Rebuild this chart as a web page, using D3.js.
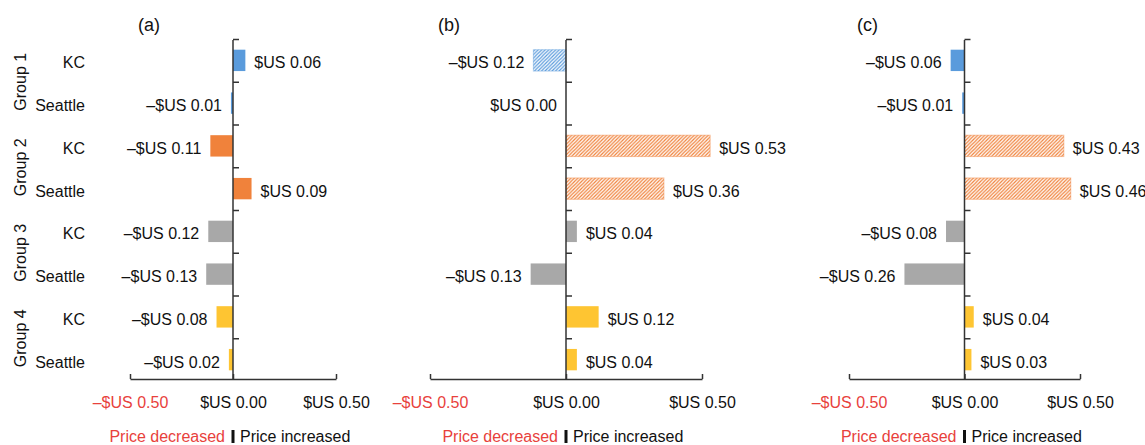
<!DOCTYPE html>
<html>
<head>
<meta charset="utf-8">
<script src="https://cdn.jsdelivr.net/npm/d3@7"></script>
<style>
  body { margin: 0; background: #fff; }
  svg { display: block; font-family: "Liberation Sans", Arial, Helvetica, sans-serif; }
</style>
</head>
<body>
<svg id="chart" width="1145" height="445"></svg>
<script>
// data
const rows = ["KC", "Seattle", "KC", "Seattle", "KC", "Seattle", "KC", "Seattle"];
const rowGroup = [0, 0, 1, 1, 2, 2, 3, 3];
const groups = ["Group 1", "Group 2", "Group 3", "Group 4"];
const valuesA = [0.06, -0.01, -0.11, 0.09, -0.12, -0.13, -0.08, -0.02];
const valuesB = [-0.12, 0.00, 0.53, 0.36, 0.04, -0.13, 0.12, 0.04];
const valuesC = [-0.06, -0.01, 0.43, 0.46, -0.08, -0.26, 0.04, 0.03];
const hatchA = [0, 0, 0, 0, 0, 0, 0, 0];
const hatchB = [1, 0, 1, 1, 0, 0, 0, 0];
const hatchC = [0, 0, 1, 1, 0, 0, 0, 0];
const panelLabels = ["(a)", "(b)", "(c)"];
const xTicks = [-0.5, 0, 0.5];

const groupColors = ["#5a9bdc", "#f0823b", "#a8a8a8", "#fec532"];
const red = "#e8413c";
const axisColor = "#333";

const svg = d3.select('#chart');
const defs = svg.append('defs');

// diagonal hatch pattern per group colour
groupColors.forEach((c, i) => {
    const p = defs.append('pattern')
        .attr('id', 'hatch' + i)
        .attr('patternUnits', 'userSpaceOnUse')
        .attr('width', 3.5)
        .attr('height', 3.5);
    p.append('rect').attr('width', 3.5).attr('height', 3.5).attr('fill', '#fff');
    p.append('path')
        .attr('d', 'M-1,1 L1,-1 M0,3.5 L3.5,0 M2.5,4.5 L4.5,2.5')
        .attr('stroke', c)
        .attr('stroke-width', 1.2);
});

const money = v => (v < 0 ? '\u2013$US ' : '$US ') + Math.abs(v).toFixed(2);

const panels = [
    { label: panelLabels[0], values: valuesA, hatch: hatchA, range: [130, 336] },
    { label: panelLabels[1], values: valuesB, hatch: hatchB, range: [430, 702] },
    { label: panelLabels[2], values: valuesC, hatch: hatchC, range: [849, 1080] }
];
const yTop = 39, yBottom = 381, xAxisY = 379;

const y = d3.scaleBand()
    .domain(d3.range(rows.length))
    .range([yTop, yBottom])
    .paddingInner(0.5)
    .paddingOuter(0.25);
const yLin = d3.scaleLinear().domain([0, rows.length]).range([yTop, yBottom]);

panels.forEach((panel, pi) => {
    const x = d3.scaleLinear().domain([-0.5, 0.5]).range(panel.range);
    const g = svg.append('g');

    // bars
    g.selectAll('.bar')
      .data(panel.values.map((v, i) => ({ v: v, i: i, h: panel.hatch[i] })))
      .enter().append('rect')
        .attr('class', 'bar')
        .attr('x', d => x(Math.min(0, d.v)))
        .attr('y', d => y(d.i))
        .attr('width', d => Math.abs(x(d.v) - x(0)))
        .attr('height', y.bandwidth())
        .attr('fill', d => d.h ? `url(#hatch${rowGroup[d.i]})` : groupColors[rowGroup[d.i]])
        .attr('stroke', d => d.h ? groupColors[rowGroup[d.i]] : 'none')
        .attr('stroke-opacity', 0.45)
        .attr('stroke-width', 1);

    // value labels
    g.selectAll('.val')
      .data(panel.values.map((v, i) => ({ v: v, i: i })))
      .enter().append('text')
        .attr('class', 'val')
        .attr('x', d => d.v > 0 ? x(d.v) + 9 : x(d.v) - 9)
        .attr('y', d => y(d.i) + y.bandwidth() / 2)
        .attr('dy', '0.5em')
        .attr('text-anchor', d => d.v > 0 ? 'start' : 'end')
        .attr('font-size', 16)
        .attr('fill', '#111')
        .text(d => money(d.v));

    // vertical axis at zero, ticks pointing right
    g.append('g')
        .attr('transform', `translate(${x(0)},0)`)
        .call(d3.axisRight(yLin).tickValues(d3.range(rows.length)).tickSize(6).tickSizeOuter(0).tickFormat(''))
        .call(a => a.select('.domain').attr('d', `M0,${yTop + 1}V${xAxisY}`))
        .call(a => a.selectAll('line,path').attr('stroke', axisColor).attr('stroke-width', 1.5));

    // horizontal axis
    const xa = g.append('g')
        .attr('transform', `translate(0,${xAxisY})`)
        .call(d3.axisBottom(x).tickValues(xTicks).tickSize(-5).tickSizeOuter(0).tickPadding(18).tickFormat(money));
    xa.selectAll('line,path').attr('stroke', axisColor).attr('stroke-width', 1.5);
    xa.selectAll('text')
        .attr('font-size', 16)
        .attr('font-family', '"Liberation Sans", Arial, sans-serif')
        .attr('fill', d => d < 0 ? red : '#111');

    // panel label
    g.append('text')
        .attr('x', panel.range[0] + 8)
        .attr('y', 31)
        .attr('font-size', 18)
        .attr('fill', '#111')
        .text(panel.label);

    // price decreased | increased legend
    g.append('text')
        .attr('x', x(0) - 8)
        .attr('y', 442)
        .attr('text-anchor', 'end')
        .attr('font-size', 16)
        .attr('fill', red)
        .text('Price decreased');
    g.append('rect')
        .attr('x', x(0) - 1.5)
        .attr('y', 430)
        .attr('width', 3)
        .attr('height', 13)
        .attr('fill', '#111');
    g.append('text')
        .attr('x', x(0) + 7)
        .attr('y', 442)
        .attr('font-size', 16)
        .attr('fill', '#111')
        .text('Price increased');

    // row and group labels only on the first panel
    if (pi === 0) {
        g.selectAll('.row')
          .data(rows)
          .enter().append('text')
            .attr('class', 'row')
            .attr('x', 85)
            .attr('y', (d, i) => y(i) + y.bandwidth() / 2)
            .attr('dy', '0.5em')
            .attr('text-anchor', 'end')
            .attr('font-size', 16)
            .attr('fill', '#111')
            .text(d => d);

        g.selectAll('.grp')
          .data(groups)
          .enter().append('text')
            .attr('class', 'grp')
            .attr('transform', (d, i) => `translate(26,${yLin(i * 2 + 1)}) rotate(-90)`)
            .attr('text-anchor', 'middle')
            .attr('font-size', 16)
            .attr('fill', '#111')
            .text(d => d);
    }
});
</script>
</body>
</html>
